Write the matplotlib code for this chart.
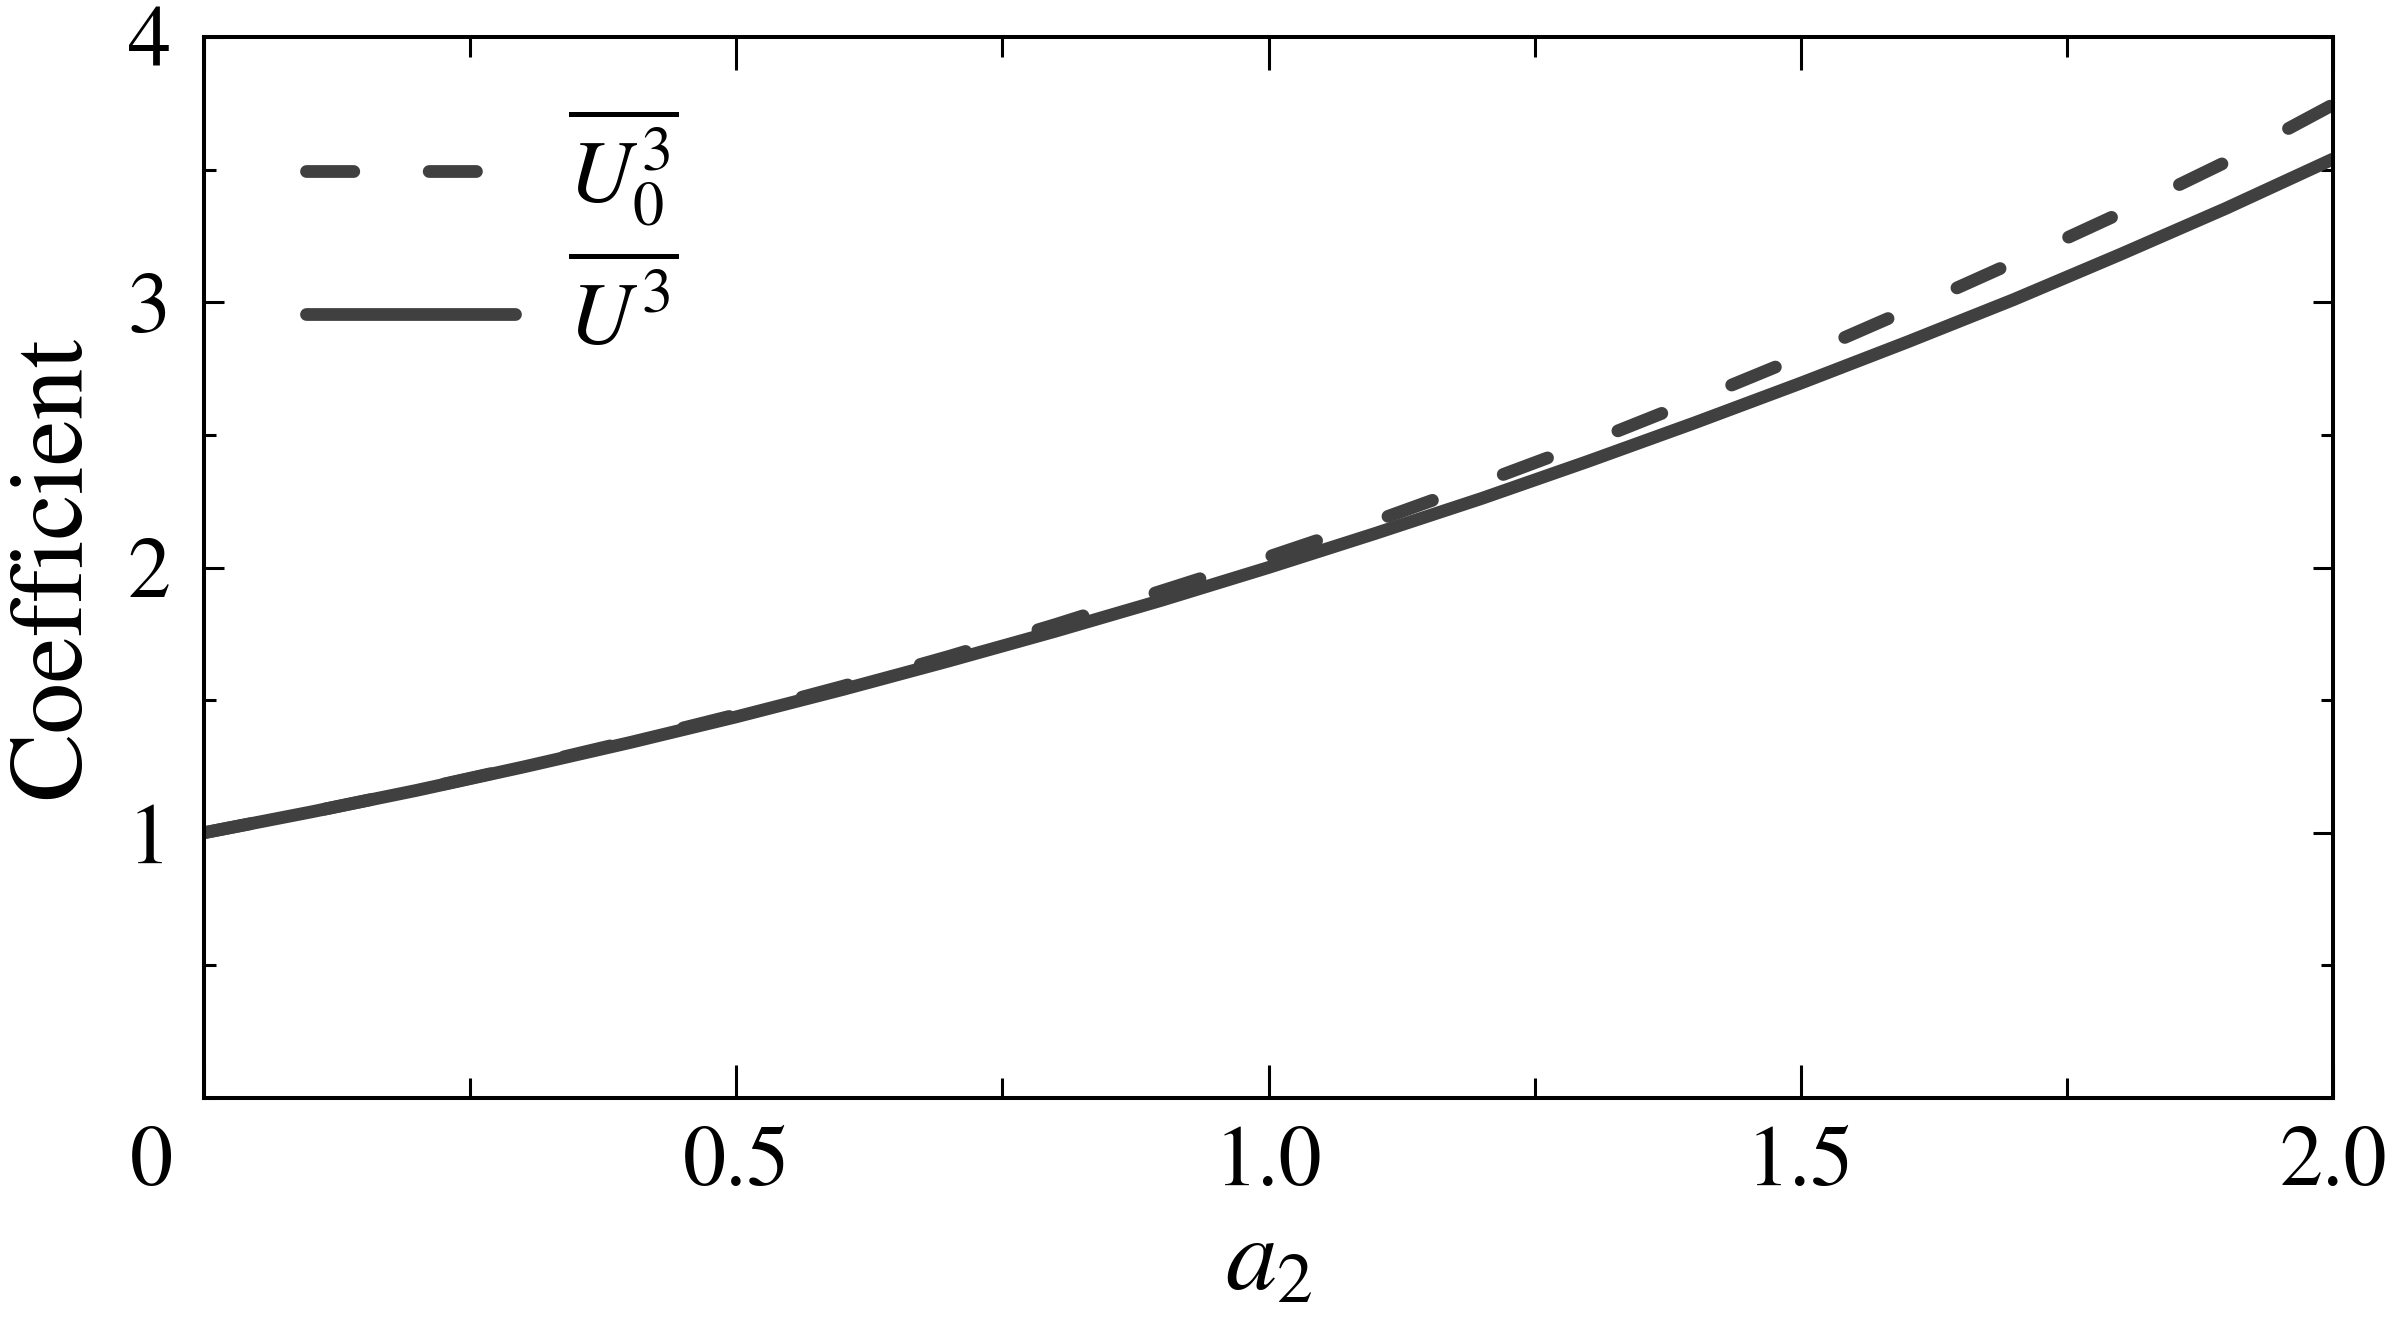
import matplotlib
matplotlib.use("Agg")
import matplotlib.pyplot as plt
import matplotlib.transforms as mtransforms
from matplotlib.ticker import MultipleLocator

plt.rcParams['font.family'] = ['STIXGeneral', 'DejaVu Serif']
plt.rcParams['mathtext.fontset'] = 'stix'

# data
a2 = [0.0, 0.1, 0.2, 0.3, 0.4, 0.5, 0.6, 0.7, 0.8, 0.9, 1.0,
      1.1, 1.2, 1.3, 1.4, 1.5, 1.6, 1.7, 1.8, 1.9, 2.0]
u0_cubed_mean = [1.00, 1.078, 1.161, 1.25, 1.345, 1.445, 1.552, 1.665, 1.785, 1.912, 2.04,
                 2.175, 2.32, 2.47, 2.63, 2.795, 2.97, 3.15, 3.335, 3.53, 3.745]
u_cubed_mean = [1.00, 1.078, 1.16, 1.248, 1.34, 1.437, 1.54, 1.648, 1.76, 1.877, 2.00,
                2.128, 2.26, 2.40, 2.545, 2.695, 2.85, 3.01, 3.18, 3.355, 3.54]
labels = [r'$\overline{U_0^3}$', r'$\overline{U^3}$']
xtick_vals = [0, 0.5, 1.0, 1.5, 2.0]
xtick_labels = ['0', '0.5', '1.0', '1.5', '2.0']
ytick_vals = [1, 2, 3, 4]

line_color = '#404040'
dpi = 200
fig = plt.figure(figsize=(2386 / dpi, 1339 / dpi), dpi=dpi)
ax = fig.add_axes([204 / 2386, 1 - 1098 / 1339, (2333 - 204) / 2386, (1098 - 37) / 1339])

lw = 4.6
l1, = ax.plot(a2, u0_cubed_mean, color=line_color, lw=lw, dashes=(3.7, 5.9),
              dash_capstyle='round', solid_capstyle='round', label=labels[0])
l2, = ax.plot(a2, u_cubed_mean, color=line_color, lw=lw, solid_capstyle='round',
              label=labels[1])

ax.set_xlim(0, 2.0)
ax.set_ylim(0, 4)
ax.set_xticks(xtick_vals)
ax.set_xticklabels(xtick_labels)
ax.xaxis.set_minor_locator(MultipleLocator(0.25))
ax.set_yticks(ytick_vals)
ax.set_yticklabels([str(v) for v in ytick_vals])
ax.yaxis.set_minor_locator(MultipleLocator(0.5))

for s in ax.spines.values():
    s.set_linewidth(1.45)

ax.tick_params(axis='x', which='major', direction='in', length=11.9, width=1.1,
               top=True, bottom=True, labelsize=31, pad=10)
ax.tick_params(axis='x', which='minor', direction='in', length=7.2, width=1.1,
               top=True, bottom=True)
ax.tick_params(axis='y', which='major', direction='in', length=7.2, width=1.1,
               left=True, right=True, labelsize=31, pad=12)
ax.tick_params(axis='y', which='minor', direction='in', length=4.3, width=1.1,
               left=True, right=True)

# the "0" label sits left of the axis origin in the reference
zero_lbl = ax.get_xticklabels()[0]
zero_lbl.set_transform(zero_lbl.get_transform() +
                       mtransforms.ScaledTranslation(-19 / 72, 0, fig.dpi_scale_trans))

ax.set_xlabel(r'$a_2$', fontsize=37, labelpad=5)
ax.set_ylabel('Coefficient', fontsize=37, labelpad=9)

leg = ax.legend(handles=[l1, l2], loc='upper left', bbox_to_anchor=(0.048, 0.935),
                frameon=False, fontsize=32, handlelength=2.35, handletextpad=0.6,
                labelspacing=0.4, borderpad=0, borderaxespad=0)

fig.savefig('out.png', dpi=dpi)
